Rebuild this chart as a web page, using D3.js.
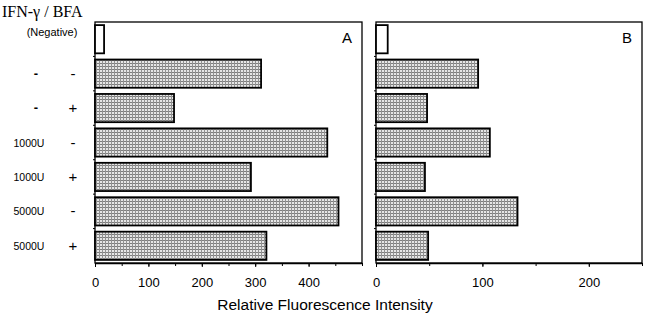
<!DOCTYPE html>
<html>
<head>
<meta charset="utf-8">
<script src="https://cdnjs.cloudflare.com/ajax/libs/d3/7.8.5/d3.min.js"></script>
<style>
  body { margin: 0; background: #fff; }
  text { font-family: "Liberation Sans", Arial, sans-serif; fill: #000; }
</style>
</head>
<body>
<div id="chart"></div>
<script>
// data
var rows = ["neg", "--", "-+", "1000-", "1000+", "5000-", "5000+"];
var ifnLabels = ["", "-", "-", "1000U", "1000U", "5000U", "5000U"];
var bfaLabels = ["", "-", "+", "-", "+", "-", "+"];
var valuesA = [17, 311, 148, 435, 292, 456, 321];
var valuesB = [11, 96, 48, 107, 46, 133, 49];
var ticksA = [0, 100, 200, 300, 400];
var ticksB = [0, 100, 200];

var W = 649, H = 321;
var svg = d3.select("#chart").append("svg")
    .attr("width", W).attr("height", H);

// stipple fill
var defs = svg.append("defs");
var pat = defs.append("pattern")
    .attr("id", "dots").attr("patternUnits", "userSpaceOnUse")
    .attr("width", 3).attr("height", 3);
pat.append("rect").attr("width", 3).attr("height", 3).attr("fill", "#e6e6e6");
pat.append("rect").attr("width", 3).attr("height", 1).attr("fill", "#7e7e7e");
pat.append("rect").attr("width", 1).attr("height", 3).attr("fill", "#929292");

var yTop = 22, yBottom = 263;
var y = d3.scaleBand().domain(rows).range([yTop, yBottom]).paddingInner(0.18).paddingOuter(0.09);

function panel(x0, x1, maxV, values, ticks, letter) {
  var x = d3.scaleLinear().domain([0, maxV]).range([x0, x1]);
  var g = svg.append("g");

  // frame
  g.append("rect")
    .attr("x", x0).attr("y", yTop)
    .attr("width", x1 - x0).attr("height", yBottom - yTop)
    .attr("fill", "none").attr("stroke", "#000").attr("stroke-width", 1.3);

  // bars
  g.selectAll(".bar").data(values).enter().append("rect")
    .attr("x", x(0))
    .attr("y", function(d, i) { return y(rows[i]); })
    .attr("width", function(d) { return x(d) - x(0); })
    .attr("height", y.bandwidth())
    .attr("fill", function(d, i) { return i === 0 ? "#fff" : "url(#dots)"; })
    .attr("stroke", "#000").attr("stroke-width", 1.8);

  // minor ticks
  var minor = d3.range(0, maxV + 1, 50);
  g.append("g")
    .attr("transform", "translate(0," + yBottom + ")")
    .call(d3.axisBottom(x).tickValues(minor).tickSize(3).tickFormat(""))
    .call(function(a) { a.select(".domain").remove(); });

  // major axis
  var ax = g.append("g")
    .attr("transform", "translate(0," + yBottom + ")")
    .call(d3.axisBottom(x).tickValues(ticks).tickSize(4).tickPadding(11).tickSizeOuter(0));
  ax.select(".domain").attr("stroke-width", 1.3);
  ax.selectAll("text").style("font-family", "'Liberation Sans', Arial, sans-serif")
    .style("font-size", "13px");

  // small marks at left between bands
  g.append("g").selectAll("line").data(rows.slice(1)).enter().append("line")
    .attr("x1", x0 - 2).attr("x2", x0)
    .attr("y1", function(r) { return y(r) - y.step() * 0.09; })
    .attr("y2", function(r) { return y(r) - y.step() * 0.09; })
    .attr("stroke", "#000");

  g.append("text")
    .attr("x", x1 - 10).attr("y", 43)
    .attr("text-anchor", "end")
    .style("font-size", "15px")
    .text(letter);
}

panel(95, 362, 500, valuesA, ticksA, "A");
panel(376, 642, 250, valuesB, ticksB, "B");

// row labels
svg.append("text")
  .attr("x", 2).attr("y", 17)
  .style("font-family", "'Liberation Serif', 'Times New Roman', serif")
  .style("font-size", "16px")
  .text("IFN-\u03b3 / BFA");

svg.append("text")
  .attr("x", 52).attr("y", 36)
  .attr("text-anchor", "middle")
  .style("font-size", "11px")
  .text("(Negative)");

var lab = svg.append("g");
lab.selectAll(".ifn").data(rows.slice(1)).enter().append("text")
  .attr("x", function(r, i) { return ifnLabels[i + 1] === "-" ? 36 : 29; })
  .attr("y", function(r) { return y(r) + y.bandwidth() / 2 + 4; })
  .attr("text-anchor", "middle")
  .style("font-size", function(r, i) { return ifnLabels[i + 1] === "-" ? "13px" : "10.5px"; })
  .style("font-weight", function(r, i) { return ifnLabels[i + 1] === "-" ? "bold" : "normal"; })
  .text(function(r, i) { return ifnLabels[i + 1]; });

lab.selectAll(".bfa").data(rows.slice(1)).enter().append("text")
  .attr("x", 73)
  .attr("y", function(r) { return y(r) + y.bandwidth() / 2 + 5; })
  .attr("text-anchor", "middle")
  .style("font-size", "15px")
  .text(function(r, i) { return bfaLabels[i + 1]; });

// axis title
svg.append("text")
  .attr("x", 325).attr("y", 310)
  .attr("text-anchor", "middle")
  .style("font-size", "15.5px")
  .text("Relative Fluorescence Intensity");
</script>
</body>
</html>
